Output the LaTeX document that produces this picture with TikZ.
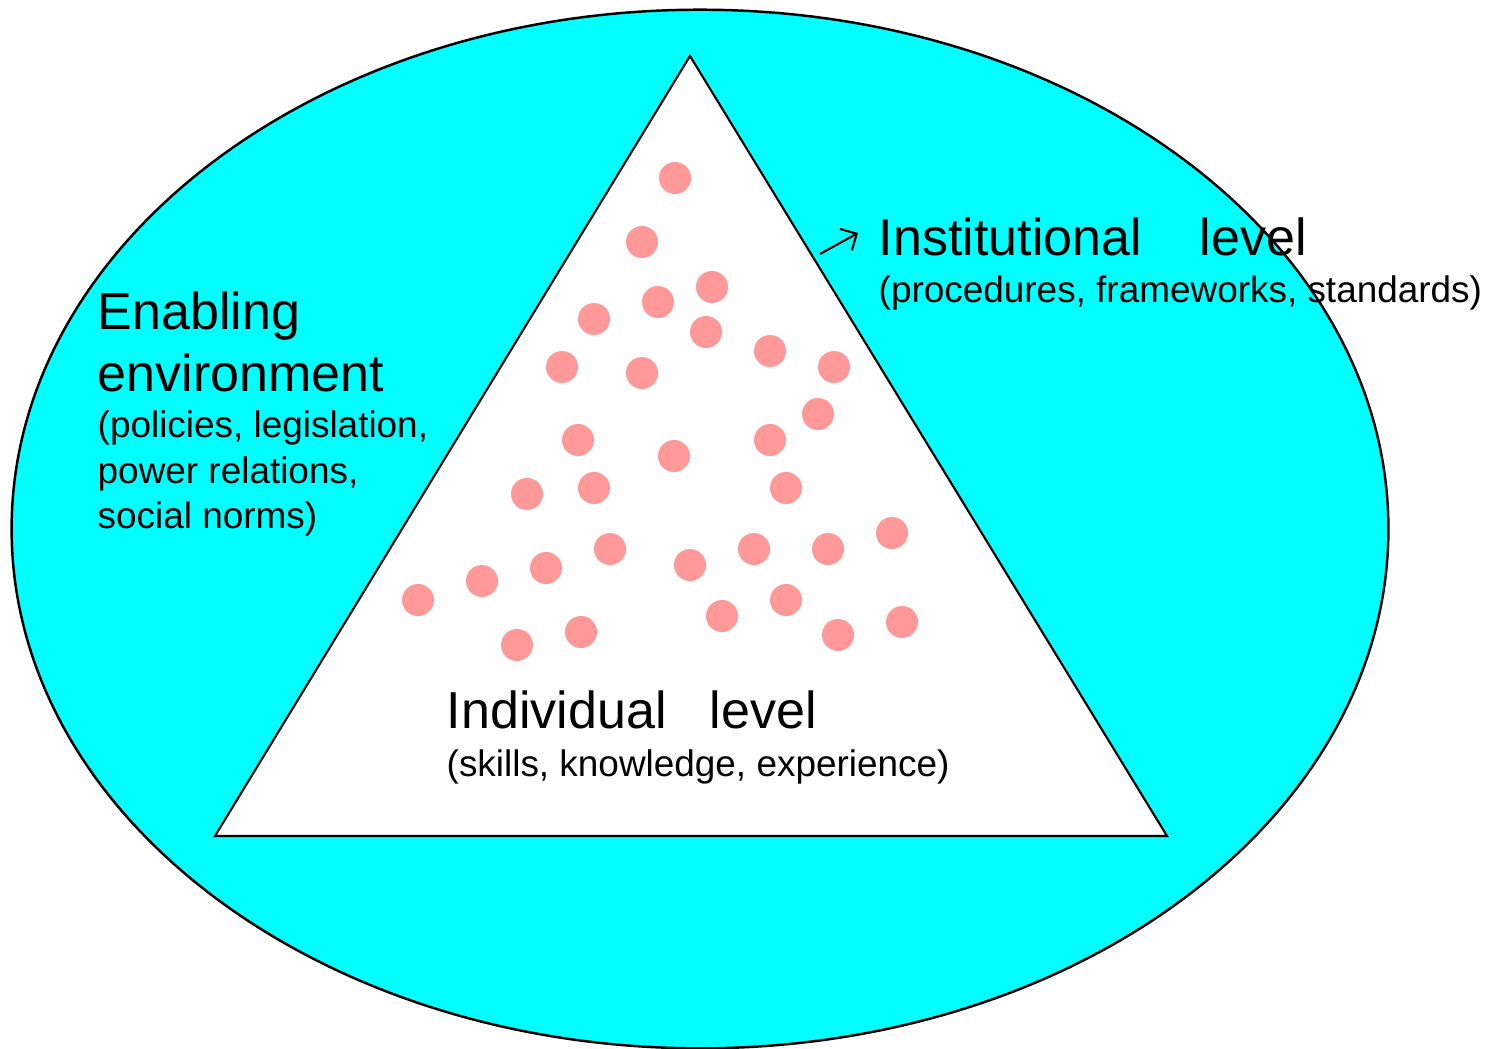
\documentclass[tikz,border=0pt]{standalone}
\usepackage{fontspec}
\setmainfont{Liberation Sans}
\usetikzlibrary{arrows.meta}
\definecolor{envcyan}{RGB}{0,255,255}
\definecolor{dotpink}{RGB}{255,153,153}
\tikzstyle{leveltitle} = [anchor=base west, inner sep=0pt, align=left, font=\fontsize{14.8}{17.6}\selectfont]
\tikzstyle{levelnote} = [anchor=base west, inner sep=0pt, align=left, font=\fontsize{10.5}{12.8}\selectfont]
\tikzstyle{arrow} = [line width=0.6pt,-{Straight Barb[length=3.5pt,width=7pt]}]

\begin{document}
\begin{tikzpicture}[x=0.01cm, y=-0.01cm]
   \useasboundingbox (0,0) rectangle (1489,1048);
   % outer ring and pyramid
   \draw [fill=envcyan, line width=0.7pt] (700,529) ellipse [x radius=6.88cm, y radius=5.19cm];
   \draw [fill=white, line width=0.6pt] (690,56) -- (215,836) -- (1167,836) -- cycle;

   % people
   \foreach \x/\y in {675/178, 642/242, 712/287, 594/319, 658/302, 706/332, 770/351, 834/367,
                      562/367, 642/373, 818/414, 578/440, 674/456, 770/440, 527/494, 594/488,
                      786/488, 610/549, 546/568, 482/581, 418/600, 690/565, 754/549, 828/549,
                      892/533, 722/616, 786/600, 838/635, 902/622, 517/645, 581/632}
      \fill [dotpink] (\x,\y) circle [radius=0.16cm];

   % labels (base anchor sits on the last line)
   \node (env) [leveltitle] at (97,391) {Enabling\\environment};
   \node (envnote) [levelnote] at (97,528) {(policies, legislation,\\power relations,\\social norms)};
   \node (inst) [leveltitle] at (878,255) {Institutional~~~~level};
   \node (instnote) [levelnote] at (878,302) {(procedures, frameworks, standards)};
   \node (indiv) [leveltitle] at (446,728) {Individual~~~level};
   \node (indivnote) [levelnote] at (446,776) {(skills, knowledge, experience)};

   \coordinate (arrtail) at (820,254);
   \coordinate (arrtip) at (858,233);
   \draw [arrow] (arrtail) -- (arrtip);
\end{tikzpicture}
\end{document}
